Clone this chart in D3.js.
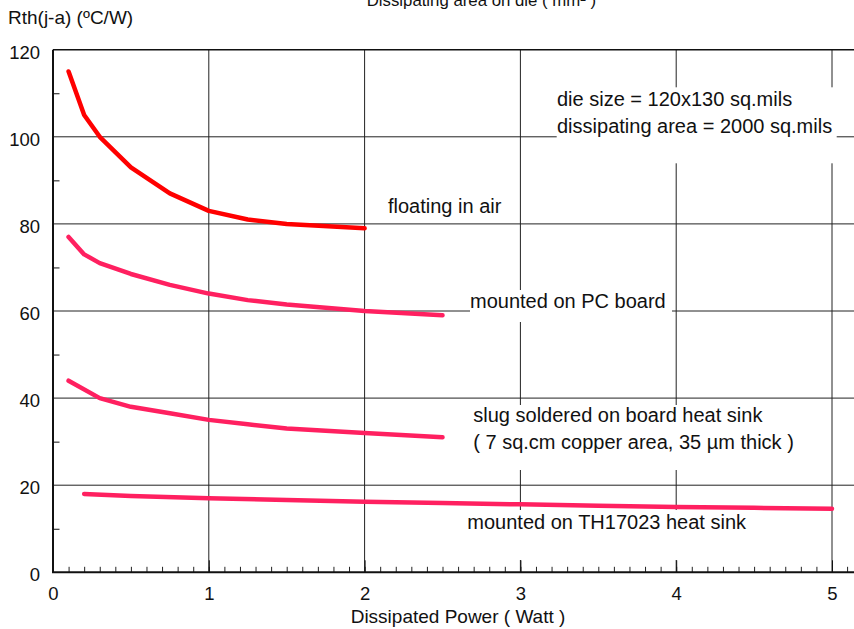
<!DOCTYPE html>
<html>
<head>
<meta charset="utf-8">
<script src="https://cdn.jsdelivr.net/npm/d3@7"></script>
<style>
  body { margin: 0; background: #fff; }
  svg text { font-family: "Liberation Sans", Arial, sans-serif; font-size: 18.5px; fill: #111; }
  svg text.note { font-size: 20px; }
  svg text.title { font-size: 19px; }
  svg text.toptitle { font-size: 16.8px; }
</style>
</head>
<body>
<div id="chart"></div>
<script>
// values
const xTicks = [0, 1, 2, 3, 4, 5];
const yTicks = [0, 20, 40, 60, 80, 100, 120];

const airX = [0.1, 0.2, 0.3, 0.5, 0.75, 1, 1.25, 1.5, 2];
const airY = [115, 105, 100, 93, 87, 83, 81, 80, 79];

const pcbX = [0.1, 0.2, 0.3, 0.5, 0.75, 1, 1.25, 1.5, 2, 2.5];
const pcbY = [77, 73, 71, 68.5, 66, 64, 62.5, 61.5, 60, 59];

const slugX = [0.1, 0.3, 0.5, 0.75, 1, 1.25, 1.5, 2, 2.5];
const slugY = [44, 40, 38, 36.5, 35, 34, 33, 32, 31];

const sinkX = [0.2, 0.5, 1, 1.5, 2, 2.5, 3, 3.5, 4, 4.5, 5];
const sinkY = [18, 17.5, 17, 16.6, 16.2, 15.9, 15.6, 15.3, 15, 14.8, 14.6];

const width = 854, height = 629;
const margin = {top: 49.7, left: 53, right: 0, bottom: 56.7};

const svg = d3.select("#chart")
    .append("svg")
    .attr("width", width)
    .attr("height", height);

const xScale = d3.scaleLinear()
    .domain([0, 5])
    .range([margin.left, 832]);

const yScale = d3.scaleLinear()
    .domain([0, 120])
    .range([height - margin.bottom, margin.top]);

const y0 = yScale(0), yTop = yScale(120);

// grid
svg.append("g")
    .selectAll("line")
    .data(xTicks.slice(1))
    .enter()
    .append("line")
        .attr("x1", d => xScale(d)).attr("x2", d => xScale(d))
        .attr("y1", yTop).attr("y2", y0)
        .attr("stroke", "#222").attr("stroke-width", 1);

svg.append("g")
    .selectAll("line")
    .data(yTicks.slice(1, -1))
    .enter()
    .append("line")
        .attr("x1", margin.left).attr("x2", width)
        .attr("y1", d => yScale(d)).attr("y2", d => yScale(d))
        .attr("stroke", "#222").attr("stroke-width", 1);

// top frame line
svg.append("line")
    .attr("x1", margin.left).attr("x2", width)
    .attr("y1", yTop).attr("y2", yTop)
    .attr("stroke", "#111").attr("stroke-width", 1.5);

// white boxes behind the annotations cut the grid
const boxes = [
    [556.7, 87.3, 836.7, 163.3],
    [470, 290, 672, 322],
    [465, 405, 800, 470],
    [462, 510, 752, 560]
];
svg.append("g")
    .selectAll("rect")
    .data(boxes)
    .enter()
    .append("rect")
        .attr("x", d => d[0]).attr("y", d => d[1])
        .attr("width", d => d[2] - d[0]).attr("height", d => d[3] - d[1])
        .attr("fill", "#fff");

// x axis: minor ticks every 0.1, major at integers
svg.append("g")
    .attr("transform", `translate(0,${y0})`)
    .call(d3.axisBottom(xScale)
        .tickValues(d3.range(0, 51).map(i => i / 10))
        .tickSize(-5.5).tickFormat(""))
    .call(g => g.select(".domain").remove())
    .call(g => g.selectAll("line").attr("stroke", "#222"));

svg.append("g")
    .attr("transform", `translate(0,${y0})`)
    .call(d3.axisBottom(xScale).tickValues(xTicks).tickFormat(d3.format("d"))
        .tickSize(-12).tickPadding(14.6))
    .call(g => g.select(".domain").remove())
    .call(g => g.selectAll("line").attr("stroke", "#111"))
    .call(g => g.selectAll("text").attr("font-size", null).attr("font-family", null));

// minor tick past 5
svg.append("line")
    .attr("x1", xScale(5.1)).attr("x2", xScale(5.1))
    .attr("y1", y0).attr("y2", y0 - 5.5)
    .attr("stroke", "#222");

// y axis
svg.append("g")
    .attr("transform", `translate(${margin.left},0)`)
    .call(d3.axisLeft(yScale).tickValues([10, 30, 50, 70, 90, 110]).tickSize(-6.5).tickFormat(""))
    .call(g => g.select(".domain").remove())
    .call(g => g.selectAll("line").attr("stroke", "#111"));

svg.append("g")
    .attr("transform", `translate(${margin.left},0)`)
    .call(d3.axisLeft(yScale).tickValues(yTicks).tickFormat(d3.format("d")).tickSize(0).tickPadding(13))
    .call(g => g.select(".domain").remove())
    .call(g => g.selectAll("text").attr("dy", "0.45em").attr("font-size", null).attr("font-family", null));

// axis frame lines
svg.append("line")
    .attr("x1", margin.left).attr("x2", margin.left)
    .attr("y1", yTop).attr("y2", y0)
    .attr("stroke", "#111").attr("stroke-width", 2);
svg.append("line")
    .attr("x1", margin.left - 1).attr("x2", width)
    .attr("y1", y0).attr("y2", y0)
    .attr("stroke", "#111").attr("stroke-width", 2);

// curves
const line = d3.line()
    .x(d => xScale(d[0]))
    .y(d => yScale(d[1]));

const curves = [
    {xs: airX, ys: airY, color: "#ff0000"},
    {xs: pcbX, ys: pcbY, color: "#ff2060"},
    {xs: slugX, ys: slugY, color: "#ff2060"},
    {xs: sinkX, ys: sinkY, color: "#ff2060"}
];

svg.append("g")
    .selectAll("path")
    .data(curves)
    .enter()
    .append("path")
        .attr("d", c => line(d3.zip(c.xs, c.ys)))
        .attr("fill", "none")
        .attr("stroke", c => c.color)
        .attr("stroke-width", 4.5)
        .attr("stroke-linecap", "round")
        .attr("stroke-linejoin", "round");

// texts
const notes = [
    {x: 388, y: 213, t: "floating in air"},
    {x: 470, y: 308.3, t: "mounted on PC board"},
    {x: 557, y: 106, t: "die size = 120x130 sq.mils"},
    {x: 557, y: 132.7, t: "dissipating area = 2000 sq.mils"},
    {x: 473.3, y: 422.3, t: "slug soldered on board heat sink"},
    {x: 473.3, y: 449.3, t: "( 7 sq.cm copper area, 35 µm thick )"},
    {x: 467.3, y: 529.3, t: "mounted on TH17023 heat sink"}
];

svg.append("g")
    .selectAll("text")
    .data(notes)
    .enter()
    .append("text")
        .attr("class", "note")
        .attr("x", d => d.x)
        .attr("y", d => d.y)
        .text(d => d.t);

svg.append("text")
    .attr("class", "title")
    .attr("x", 8).attr("y", 24)
    .text("Rth(j-a) (ºC/W)");

// partly off the top edge, as in the source
svg.append("text")
    .attr("class", "toptitle")
    .attr("x", 366.7).attr("y", 6)
    .text("Dissipating area on die ( mm² )");

svg.append("text")
    .attr("class", "title")
    .attr("x", 458)
    .attr("y", 623)
    .attr("text-anchor", "middle")
    .text("Dissipated Power ( Watt )");
</script>
</body>
</html>
